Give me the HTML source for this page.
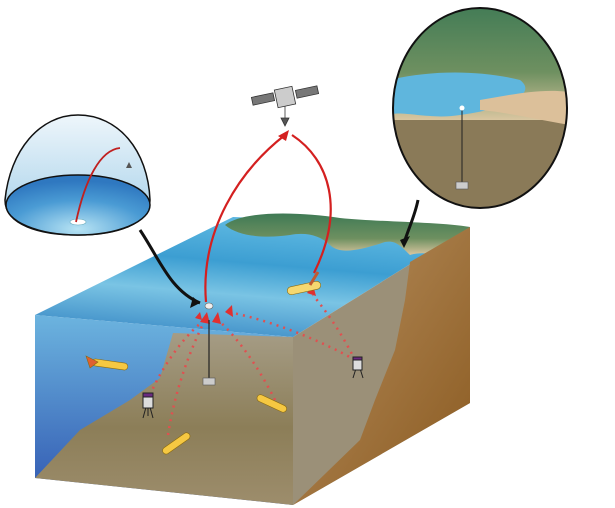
<!DOCTYPE html>
<html><head><style>html,body{margin:0;padding:0;background:#fff;width:615px;height:508px;overflow:hidden}</style></head>
<body>
<svg width="615" height="508" viewBox="0 0 615 508" xmlns="http://www.w3.org/2000/svg">
<defs>
<linearGradient id="top" x1="0" y1="1" x2="0.3" y2="0">
<stop offset="0" stop-color="#2e7fc0"/><stop offset="0.45" stop-color="#7ac4e4"/><stop offset="0.7" stop-color="#3c9ed2"/><stop offset="1" stop-color="#5bb6e0"/></linearGradient>
<linearGradient id="front" x1="0" y1="0" x2="0" y2="1">
<stop offset="0" stop-color="#6cb4df"/><stop offset="1" stop-color="#2f55b0"/></linearGradient>
<linearGradient id="sand" x1="0" y1="0" x2="0" y2="1">
<stop offset="0" stop-color="#a59c85"/><stop offset="0.55" stop-color="#8c7e58"/><stop offset="1" stop-color="#9d8d6c"/></linearGradient>
<linearGradient id="side" x1="0" y1="0" x2="1" y2="1">
<stop offset="0" stop-color="#b89060"/><stop offset="1" stop-color="#8a5a20"/></linearGradient>
<linearGradient id="land" x1="0" y1="0" x2="0" y2="1">
<stop offset="0" stop-color="#3f7a55"/><stop offset="0.6" stop-color="#6e9060"/><stop offset="1" stop-color="#d9c6a0"/></linearGradient>
<radialGradient id="dome" cx="0.5" cy="0.9" r="0.8">
<stop offset="0" stop-color="#b8e4f4"/><stop offset="0.6" stop-color="#4a9bd4"/><stop offset="1" stop-color="#2f78c0"/></radialGradient>
<linearGradient id="sky" x1="0" y1="0" x2="0" y2="1"><stop offset="0" stop-color="#eef6fb"/><stop offset="1" stop-color="#9fcde8"/></linearGradient>
<clipPath id="cr"><ellipse cx="480" cy="108" rx="87" ry="100"/></clipPath>
<clipPath id="cl"><path d="M5,200 C10,150 40,115 78,115 C118,115 148,150 150,200 Z"/></clipPath>
</defs>

<!-- box top -->
<polygon points="35,315 233,217 470,227 293,337" fill="url(#top)"/>
<path d="M225,225 C245,210 300,212 340,218 C380,222 440,222 470,227 L455,250 C440,258 425,250 410,255 C400,245 395,240 385,242 C360,250 340,255 330,245 C320,235 305,232 290,235 C270,238 240,238 225,225 Z" fill="url(#land)"/>
<!-- front face -->
<polygon points="35,315 293,337 293,505 35,478" fill="url(#front)"/>
<polygon points="35,478 80,430 130,400 160,378 173,333 293,337 293,505" fill="url(#sand)"/>
<!-- right face -->
<polygon points="293,337 470,227 470,403 293,505" fill="#9b9078"/>
<path d="M410,262 L470,227 L470,403 L293,505 L360,440 L375,400 L395,350 L405,300 Z" fill="url(#side)"/>

<!-- red dotted signals -->
<g stroke="#e05050" stroke-width="2.5" stroke-dasharray="2,5" fill="none">
<path d="M168,435 C175,390 190,350 205,320"/>
<path d="M150,395 C165,360 190,330 205,320"/>
<path d="M275,400 C260,370 240,340 218,320"/>
<path d="M355,360 C320,340 270,320 228,312"/>
<path d="M355,360 C340,330 325,310 313,295"/>
</g>
<g fill="#e03030"><polygon points="200,322 207,312 210,324"/><polygon points="212,322 218,312 221,324"/><polygon points="225,312 232,305 233,317"/><polygon points="307,293 313,285 316,296"/><polygon points="195,318 200,312 202,320"/></g>

<!-- mooring -->
<line x1="209" y1="320" x2="209" y2="380" stroke="#222" stroke-width="1.2"/>
<rect x="203" y="378" width="12" height="7" fill="#ccc" stroke="#555" stroke-width="0.6"/>
<ellipse cx="209" cy="306" rx="4" ry="3" fill="#eee" stroke="#666" stroke-width="0.6"/>

<!-- gliders -->
<g stroke="#8a6a10" stroke-width="0.6">
<rect x="92" y="361" width="36" height="7" rx="3.5" fill="#f5c842" transform="rotate(8 110 364)"/>
<polygon points="86,356 98,362 90,368" fill="#e06030"/>
<rect x="287" y="284" width="34" height="8" rx="4" fill="#f5d870" transform="rotate(-12 304 288)"/>
<line x1="310" y1="285" x2="318" y2="272" stroke="#c05a30" stroke-width="3"/>
<rect x="256" y="400" width="32" height="7" rx="3.5" fill="#f5c842" transform="rotate(25 272 403)"/>
<rect x="160" y="440" width="32" height="7" rx="3.5" fill="#f5c842" transform="rotate(-35 176 443)"/>
</g>
<!-- tripods -->
<g stroke="#222" stroke-width="1" fill="none">
<path d="M143,418 L148,400 L153,418 M148,400 L148,416"/><rect x="143" y="396" width="10" height="12" fill="#ddd"/><rect x="143" y="393" width="10" height="4" fill="#6a2a80"/>
<path d="M353,378 L358,362 L363,378"/><rect x="353" y="360" width="9" height="10" fill="#ddd"/><rect x="353" y="357" width="9" height="3" fill="#6a2a80"/>
</g>

<!-- red comm arrows -->
<g stroke="#d42020" stroke-width="2.2" fill="none">
<path d="M206,302 C200,230 240,170 285,135"/>
<path d="M314,273 C345,210 330,160 292,135"/>
<path d="M85,215 C100,170 110,160 120,150"/>
</g>
<polygon points="289,130 278,136 286,141" fill="#d42020"/>

<!-- satellite -->
<g stroke="#333" stroke-width="0.8">
<rect x="252" y="95" width="22" height="8" fill="#777" transform="rotate(-12 263 99)"/>
<rect x="296" y="88" width="22" height="8" fill="#777" transform="rotate(-12 307 92)"/>
<rect x="276" y="88" width="18" height="18" fill="#ccc" transform="rotate(-12 285 97)"/>
<line x1="285" y1="106" x2="285" y2="118"/><polygon points="281,118 289,118 285,126" fill="#555"/>
</g>

<!-- left dome -->
<path d="M5,200 C10,150 40,115 78,115 C118,115 148,150 150,200 C150,225 115,235 78,235 C40,235 5,225 5,200 Z" fill="url(#sky)" stroke="#111" stroke-width="1.5"/>
<ellipse cx="78" cy="205" rx="72" ry="30" fill="url(#dome)" stroke="#111" stroke-width="1.5"/>
<ellipse cx="78" cy="222" rx="8" ry="3" fill="#fff" stroke="#6ab" stroke-width="0.6"/>
<path d="M76,222 C85,180 100,150 120,148" stroke="#c02020" stroke-width="1.8" fill="none"/>
<path d="M126,168 l3,-6 l3,6 z" fill="#555"/>
<path d="M140,230 C160,260 170,290 200,303" stroke="#111" stroke-width="3" fill="none"/>
<polygon points="200,303 190,308 193,297" fill="#111"/>

<!-- right bubble -->
<g clip-path="url(#cr)">
<rect x="390" y="0" width="180" height="220" fill="#8a7a58"/>
<rect x="390" y="0" width="180" height="120" fill="url(#land)"/>
<path d="M390,80 C430,70 480,70 520,80 C540,95 500,110 460,115 C430,120 400,110 390,115 Z" fill="#5fb6dd"/>
<path d="M480,100 C510,95 540,88 570,92 L570,125 C540,120 505,112 480,110 Z" fill="#dcc09a"/>
</g>
<ellipse cx="480" cy="108" rx="87" ry="100" fill="none" stroke="#111" stroke-width="2"/>
<line x1="462" y1="110" x2="462" y2="183" stroke="#222" stroke-width="1"/>
<circle cx="462" cy="108" r="2.5" fill="#fff"/>
<rect x="456" y="182" width="12" height="7" fill="#ccc" stroke="#555" stroke-width="0.6"/>
<path d="M418,200 C415,215 410,225 405,240" stroke="#111" stroke-width="3" fill="none"/>
<polygon points="400,240 410,236 404,248" fill="#111"/>
</svg>
</body></html>
